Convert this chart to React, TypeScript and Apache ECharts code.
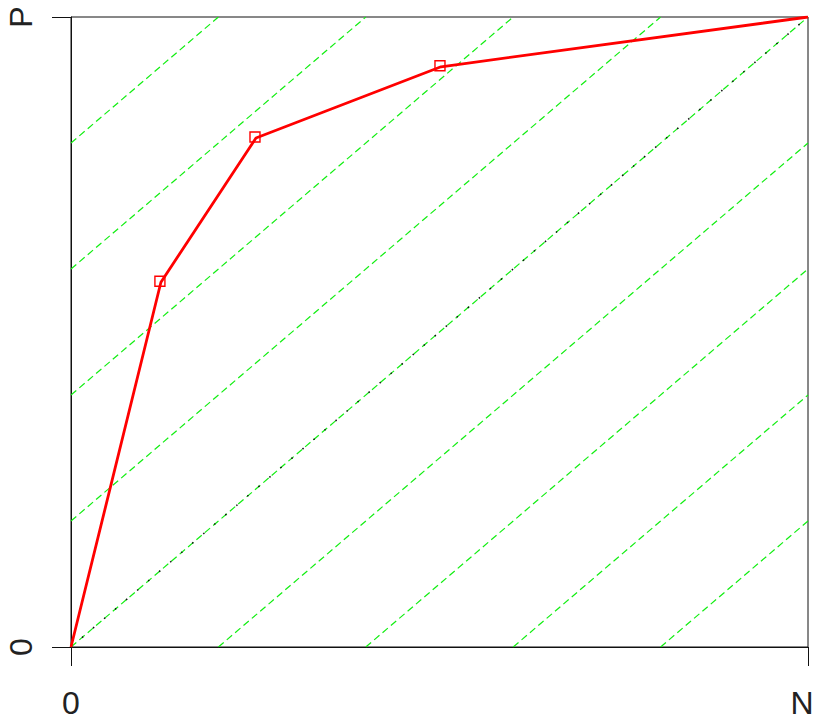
import React, { useEffect, useRef } from "react";
import * as echarts from "echarts";

// Red curve points (normalized N, P)
const curveX = [0, 0.122, 0.251, 0.502, 1];
const curveY = [0, 0.579, 0.808, 0.921, 1];

// Isometric lines (segments, normalized)
const isoSegments: number[][][] = [
  [[0, 0.8], [0.2, 1]],
  [[0, 0.6], [0.4, 1]],
  [[0, 0.4], [0.6, 1]],
  [[0, 0.2], [0.8, 1]],
  [[0.2, 0], [1, 0.8]],
  [[0.4, 0], [1, 0.6]],
  [[0.6, 0], [1, 0.4]],
  [[0.8, 0], [1, 0.2]],
];
const diagonal: number[][] = [[0, 0], [1, 1]];

const xTickLabels = ["0", "N"];
const yTickLabels = ["0", "P"];

export default function App() {
  const ref = useRef<HTMLDivElement>(null);
  useEffect(() => {
    if (!ref.current) return;
    const chart = echarts.init(ref.current, undefined, { renderer: "svg" });
    const font = "'Liberation Sans', Arial, sans-serif";
    const isoSeries = isoSegments.map((seg, i) => ({
      name: "iso" + i,
      type: "line",
      data: seg,
      symbol: "none",
      silent: true,
      z: 2,
      lineStyle: { color: "#11ee11", width: 1.2, type: [7, 4] },
    }));
    chart.setOption({
      animation: false,
      grid: {
        left: 71,
        right: 7,
        top: 17,
        bottom: 73,
        containLabel: false,
        outerBoundsMode: "none",
        show: true,
        borderColor: "#111",
        borderWidth: 1,
        backgroundColor: "transparent",
      },
      xAxis: {
        type: "value",
        min: 0,
        max: 1,
        interval: 1,
        axisLine: { show: true, lineStyle: { color: "#111", width: 1 } },
        axisTick: { show: true, length: 19, lineStyle: { color: "#111", width: 1 } },
        splitLine: { show: false },
        axisLabel: {
          margin: 40,
          fontSize: 32,
          fontFamily: font,
          color: "#222",
          showMinLabel: true,
          showMaxLabel: true,
          hideOverlap: false,
          formatter: (v: number) => (v === 0 ? xTickLabels[0] : "{n|" + xTickLabels[1] + "}"),
          rich: {
            n: {
              fontSize: 32,
              fontFamily: font,
              color: "#222",
              padding: [0, 12, 0, 0],
            },
          },
        },
      },
      yAxis: {
        type: "value",
        min: 0,
        max: 1,
        interval: 1,
        axisLine: { show: true, lineStyle: { color: "#111", width: 1 } },
        axisTick: { show: true, length: 19, lineStyle: { color: "#111", width: 1 } },
        splitLine: { show: false },
        axisLabel: {
          margin: 34,
          rotate: 90,
          fontSize: 32,
          fontFamily: font,
          color: "#222",
          showMinLabel: true,
          showMaxLabel: true,
          hideOverlap: false,
          formatter: (v: number) => (v === 0 ? yTickLabels[0] : yTickLabels[1]),
        },
      },
      series: [
        ...isoSeries,
        {
          name: "diag",
          type: "line",
          data: diagonal,
          symbol: "none",
          silent: true,
          z: 2,
          lineStyle: { color: "#11ee11", width: 1.2, type: [7, 4] },
        },
        {
          name: "diagDots",
          type: "line",
          data: diagonal,
          symbol: "none",
          silent: true,
          z: 3,
          lineStyle: { color: "#111", width: 1.5, type: [1.5, 13] },
        },
        {
          name: "curve",
          type: "line",
          data: curveX.map((x, i) => [x, curveY[i]]),
          z: 5,
          symbol: (_v: any, p: any) =>
            p.dataIndex === 0 || p.dataIndex === curveX.length - 1 ? "none" : "rect",
          symbolSize: 10,
          symbolOffset: [-1, -1],
          itemStyle: { color: "transparent", borderColor: "#ff0000", borderWidth: 1.4 },
          lineStyle: { color: "#ff0000", width: 2.8 },
        },
      ],
    });
    return () => chart.dispose();
  }, []);
  return (
    <div
      ref={ref}
      style={{ position: "fixed", left: 0, top: 0, width: 815, height: 720, background: "#fff" }}
    />
  );
}
